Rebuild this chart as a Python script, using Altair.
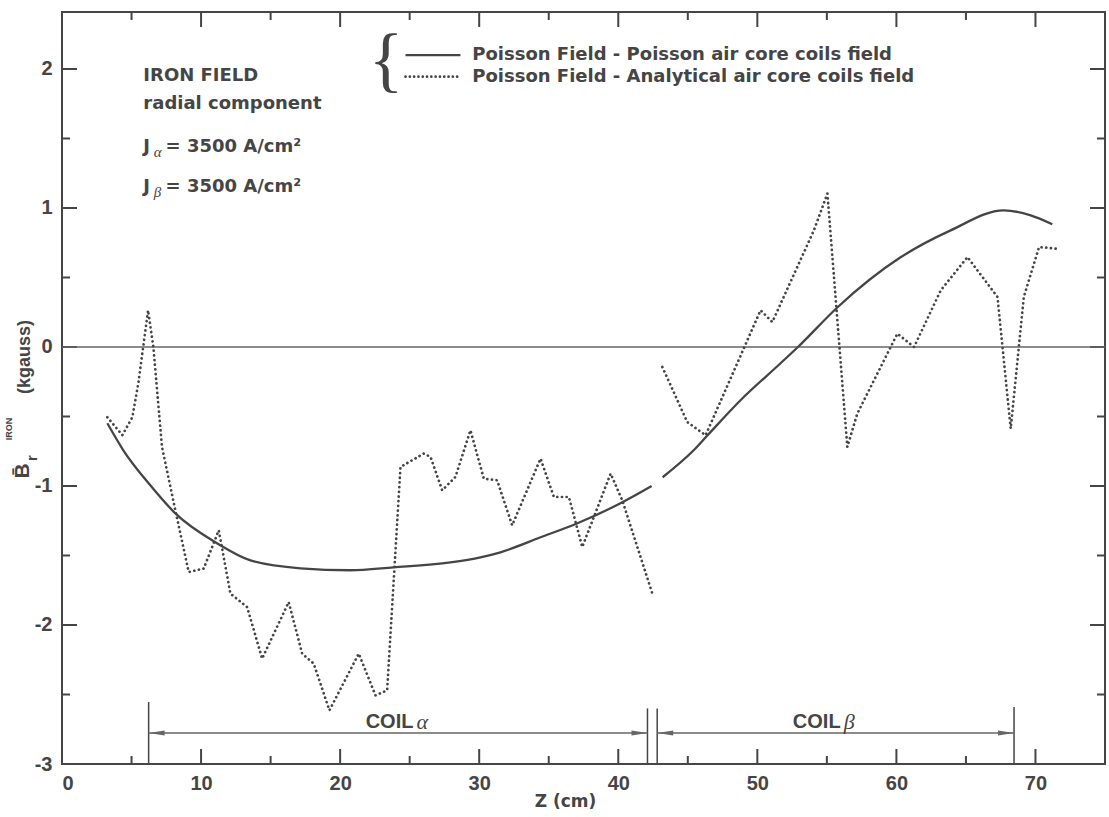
import altair as alt
import pandas as pd

# ---------------- data ----------------
X_MAJOR = [0, 10, 20, 30, 40, 50, 60, 70]
X_MINOR = [5, 15, 25, 35, 45, 55, 65]
Y_MAJOR = [-3, -2, -1, 0, 1, 2]
Y_MINOR = [-2.5, -1.5, -0.5, 0.5, 1.5]

# Poisson Field - Poisson air core coils field (solid), two pieces
SOLID1_Z = [3.26, 4.41, 6.35, 8.15, 11.17, 13.55, 17.14, 20.74, 23.83, 27.93,
            30.09, 31.53, 34.41, 37.07, 40.16, 42.4]
SOLID1_B = [-0.549, -0.743, -0.995, -1.197, -1.413, -1.535, -1.592, -1.606, -1.585, -1.549,
            -1.513, -1.477, -1.369, -1.268, -1.124, -1.0]
SOLID2_Z = [43.19, 45.42, 46.42, 48.79, 51.67, 52.9, 55.77, 60.3, 63.9, 67.72, 69.66, 71.21]
SOLID2_B = [-0.937, -0.743, -0.635, -0.383, -0.117, -0.002, 0.286, 0.645, 0.839, 0.983, 0.947, 0.883]

# Poisson Field - Analytical air core coils field (dotted), two pieces
DOT1_Z = [3.26, 4.34, 5.06, 5.49, 6.19, 6.57, 7.19, 8.15, 9.11, 10.19, 11.27, 12.11, 13.31,
          14.39, 16.30, 17.27, 18.1, 19.23, 21.34, 22.54, 23.38, 24.34, 26.01, 26.5, 27.34,
          28.29, 29.37, 30.33, 31.29, 32.37, 34.41, 35.37, 36.45, 37.41, 39.45, 40.29, 42.45]
DOT1_B = [-0.505, -0.634, -0.505, -0.26, 0.264, 0.0, -0.719, -1.175, -1.619, -1.594, -1.319,
          -1.774, -1.871, -2.242, -1.835, -2.206, -2.278, -2.614, -2.206, -2.506, -2.47,
          -0.863, -0.767, -0.791, -1.031, -0.935, -0.599, -0.947, -0.959, -1.283, -0.803,
          -1.079, -1.079, -1.439, -0.911, -1.103, -1.774]
DOT2_Z = [43.17, 44.96, 46.28, 49.07, 50.23, 51.08, 54.07, 55.04, 56.47, 57.19, 60.07, 61.27,
          63.19, 65.11, 67.27, 68.22, 69.16, 70.26, 71.46]
DOT2_B = [-0.144, -0.54, -0.635, 0.0, 0.264, 0.18, 0.84, 1.104, -0.719, -0.479, 0.096, 0.0,
          0.408, 0.647, 0.36, -0.587, 0.36, 0.719, 0.708]

# coil extents
COIL_LEFT = [6.23, 42.8]
COIL_RIGHT = [42.1, 68.46]
COIL_TOP = [-2.554, -2.60]
COIL_RIGHT_TOP = [-2.60, -2.59]
COIL_ARROW_Y = -2.777
COIL_NAMES = ["COIL", "COIL"]
COIL_GREEK = ["α", "β"]
COIL_TEXT_X = [25.27, 55.99]
COIL_TEXT_Y = -2.70

ZERO = [0]

# legend / annotation text
LEGEND_LABELS = ["Poisson Field - Poisson  air core coils field",
                 "Poisson Field - Analytical air core coils field"]
LEGEND_Y = [2.10, 1.945]
INFO_LINES = ["IRON FIELD", "radial component"]
INFO_Y = [1.947, 1.746]
J_Y = [1.437, 1.149]
J_SUB = ["α", "β"]
J_TEXT = ["= 3500  A/cm²", "= 3500  A/cm²"]

# ---------------- styling ----------------
INK = "#454545"
FONT = "Liberation Sans"
WIDE = "DejaVu Sans"
W, H = 1043, 752

XS = alt.Scale(domain=[0, 75], nice=False, zero=False)
YS = alt.Scale(domain=[-3, 2.41], nice=False, zero=False)
XAX = alt.Axis(values=X_MAJOR, ticks=False, domain=False, grid=False,
               labelExpr="'' + datum.value",
               labelFont=FONT, labelFontSize=20, labelFontWeight="bold", labelColor=INK,
               labelPadding=9, title="Z (cm)", titleFont=WIDE, titleFontSize=17,
               titleFontWeight="bold", titleColor=INK, titlePadding=0, titleX=503,
               titleAlign="center")
YAX = alt.Axis(values=Y_MAJOR, ticks=False, domain=False, grid=False,
               labelExpr="'' + datum.value",
               labelFont=FONT, labelFontSize=20, labelFontWeight="bold", labelColor=INK,
               labelPadding=10, title="")


def X(f):
    return alt.X(f, type="quantitative", scale=XS, axis=XAX)


def Y(f):
    return alt.Y(f, type="quantitative", scale=YS, axis=YAX)


layers = []

# tick marks (inward) on all four sides
for vals, ln in [(X_MAJOR, 15), (X_MINOR, 8)]:
    d = pd.DataFrame({"v": vals})
    layers.append(alt.Chart(d).mark_rule(color=INK, strokeWidth=2).encode(
        x=X("v"), y=alt.value(H), y2=alt.value(H - ln)))
    layers.append(alt.Chart(d).mark_rule(color=INK, strokeWidth=2).encode(
        x=X("v"), y=alt.value(0), y2=alt.value(ln)))
for vals, ln in [(Y_MAJOR, 15), (Y_MINOR, 8)]:
    d = pd.DataFrame({"v": vals})
    layers.append(alt.Chart(d).mark_rule(color=INK, strokeWidth=2).encode(
        y=Y("v"), x=alt.value(0), x2=alt.value(ln)))
    layers.append(alt.Chart(d).mark_rule(color=INK, strokeWidth=2).encode(
        y=Y("v"), x=alt.value(W), x2=alt.value(W - ln)))

# zero line
layers.append(alt.Chart(pd.DataFrame({"v": ZERO})).mark_rule(color="#666666", strokeWidth=1.6).encode(
    y=Y("v"), x=alt.value(0), x2=alt.value(W)))

# solid curve
solid = pd.DataFrame({
    "z": SOLID1_Z + SOLID2_Z,
    "b": SOLID1_B + SOLID2_B,
    "seg": ["a"] * len(SOLID1_Z) + ["b"] * len(SOLID2_Z),
})
layers.append(alt.Chart(solid).mark_line(color=INK, strokeWidth=2.3, interpolate="monotone").encode(
    x=X("z"), y=Y("b"), detail="seg:N"))

# dotted curve
DOT_STYLE = dict(strokeWidth=2.7, strokeDash=[0.1, 4.6], strokeCap="round")
dotted = pd.DataFrame({
    "z": DOT1_Z + DOT2_Z,
    "b": DOT1_B + DOT2_B,
    "seg": ["a"] * len(DOT1_Z) + ["b"] * len(DOT2_Z),
})
layers.append(alt.Chart(dotted).mark_line(color=INK, **DOT_STYLE).encode(
    x=X("z"), y=Y("b"), detail="seg:N"))

# coil markers
coil = pd.DataFrame({"l": COIL_LEFT, "r": COIL_RIGHT, "lt": COIL_TOP, "rt": COIL_RIGHT_TOP,
                     "ay": [COIL_ARROW_Y] * 2, "bot": [-3, -3],
                     "name": COIL_NAMES, "greek": COIL_GREEK, "tx": COIL_TEXT_X,
                     "ty": [COIL_TEXT_Y] * 2})
layers.append(alt.Chart(coil).mark_rule(color=INK, strokeWidth=1.5).encode(
    x=X("l"), y=Y("lt"), y2="bot:Q"))
layers.append(alt.Chart(coil).mark_rule(color=INK, strokeWidth=1.5).encode(
    x=X("r"), y=Y("rt"), y2="bot:Q"))
layers.append(alt.Chart(coil).mark_rule(color="#666666", strokeWidth=1.4).encode(
    x=X("l"), x2="r:Q", y=Y("ay")))
layers.append(alt.Chart(coil).mark_point(shape="M0,0L2,-0.3L2,0.3Z", size=256, filled=True,
                                         color="#666666", opacity=1).encode(
    x=X("l"), y=Y("ay")))
layers.append(alt.Chart(coil).mark_point(shape="M0,0L-2,-0.3L-2,0.3Z", size=256, filled=True,
                                         color="#666666", opacity=1).encode(
    x=X("r"), y=Y("ay")))
layers.append(alt.Chart(coil).mark_text(font=FONT, fontSize=20, fontWeight="bold", color=INK,
                                        align="right", baseline="middle").encode(
    x=X("tx"), y=Y("ty"), text="name:N"))
layers.append(alt.Chart(coil).mark_text(font="Liberation Serif", fontSize=22, fontStyle="italic",
                                        color=INK, align="left", baseline="middle", dx=3).encode(
    x=X("tx"), y=Y("ty"), text="greek:N"))

# legend (top)
leg = pd.DataFrame({"t": LEGEND_LABELS, "y": LEGEND_Y, "x1": [24.7, 24.7], "x2": [28.65, 28.65],
                    "tx": [29.5, 29.5], "k": ["solid", "dotted"]})
layers.append(alt.Chart(leg[leg.k == "solid"]).mark_rule(color=INK, strokeWidth=2.2).encode(
    x=X("x1"), x2="x2:Q", y=Y("y")))
layers.append(alt.Chart(leg[leg.k == "dotted"]).mark_rule(color=INK, strokeWidth=2.6,
                                                        strokeDash=[0.1, 4.2],
                                                        strokeCap="round").encode(
    x=X("x1"), x2="x2:Q", y=Y("y")))
layers.append(alt.Chart(leg).mark_text(font=WIDE, fontSize=18, fontWeight="bold", color=INK,
                                       align="left", baseline="middle").encode(
    x=X("tx"), y=Y("y"), text="t:N"))
brace = pd.DataFrame({"t": ["{"], "x": [23.3], "y": [2.06]})
layers.append(alt.Chart(brace).mark_text(font="Liberation Serif", fontSize=72, color=INK,
                                         align="center", baseline="middle").encode(
    x=X("x"), y=Y("y"), text="t:N"))

# info block (top-left)
info = pd.DataFrame({"t": INFO_LINES, "y": INFO_Y, "x": [5.85, 5.85]})
layers.append(alt.Chart(info).mark_text(font=WIDE, fontSize=18, fontWeight="bold", color=INK,
                                        align="left", baseline="middle").encode(
    x=X("x"), y=Y("y"), text="t:N"))
jd = pd.DataFrame({"J": ["J", "J"], "sub": J_SUB, "rest": J_TEXT, "y": J_Y,
                   "x": [5.85, 5.85], "sx": [6.6, 6.6], "rx": [7.45, 7.45]})
layers.append(alt.Chart(jd).mark_text(font=WIDE, fontSize=18, fontWeight="bold", color=INK,
                                      align="left", baseline="middle").encode(
    x=X("x"), y=Y("y"), text="J:N"))
layers.append(alt.Chart(jd).mark_text(font="Liberation Serif", fontSize=15, fontStyle="italic",
                                      color=INK, align="left", baseline="middle", dy=5).encode(
    x=X("sx"), y=Y("y"), text="sub:N"))
layers.append(alt.Chart(jd).mark_text(font=WIDE, fontSize=18, fontWeight="bold", color=INK,
                                      align="left", baseline="middle").encode(
    x=X("rx"), y=Y("y"), text="rest:N"))

# y-axis title pieces (rotated)
ytitle = [("(kgauss)", -37, 345, 18), ("B\u0304", -39, 459, 21), ("r", -30, 446, 15),
          ("IRON", -53, 417, 9)]
for t, px, py, fs in ytitle:
    layers.append(alt.Chart(pd.DataFrame({"t": [t]})).mark_text(
        font=FONT, fontSize=fs, fontWeight="bold", color=INK, angle=270,
        align="center", baseline="middle").encode(
        x=alt.value(px), y=alt.value(py), text="t:N"))

chart = alt.layer(*layers).properties(
    width=W, height=H,
    padding={"left": 62, "top": 12, "right": 4, "bottom": 53},
    autosize=alt.AutoSizeParams(type="none"),
    background="white",
).configure_view(stroke=INK, strokeWidth=2)

chart.save("out.html", embed_options={"renderer": "svg", "actions": False})
